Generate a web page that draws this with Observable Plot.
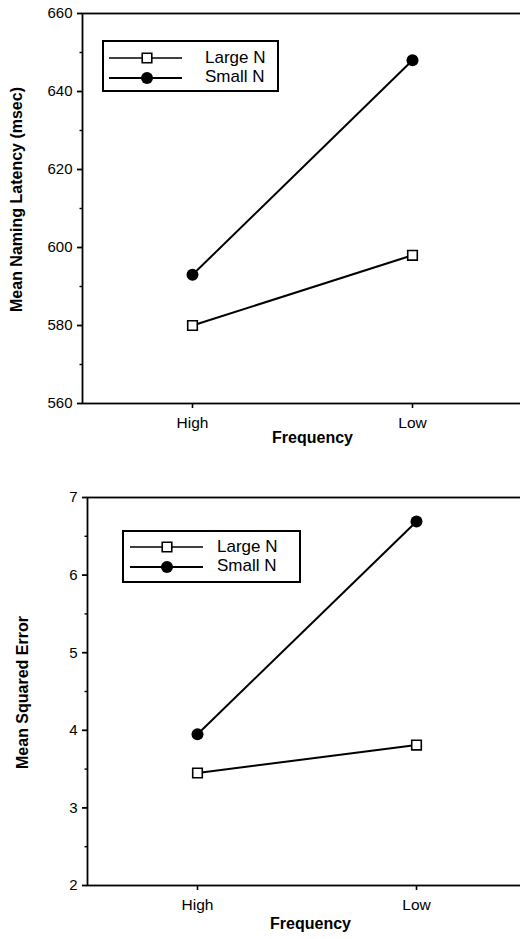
<!DOCTYPE html>
<html><head><meta charset="utf-8">
<script src="https://cdn.jsdelivr.net/npm/d3@7"></script>
<script src="https://cdn.jsdelivr.net/npm/@observablehq/plot@0.6"></script>
<style>
html,body{margin:0;padding:0;background:#fff;overflow:hidden;}
#chart svg{display:block;overflow:hidden;}
</style>
</head><body><div id="chart"></div>
<script>
// ---- data ----
const frequencies = ["High", "Low"];
const seriesNames = ["Large N", "Small N"];
const latencyLarge = [580, 598];
const latencySmall = [593, 648];
const errorLarge = [3.45, 3.81];
const errorSmall = [3.95, 6.69];
const latencyTicks = [560, 580, 600, 620, 640, 660];
const latencyMinor = [570, 590, 610, 630, 650];
const errorTicks = [2, 3, 4, 5, 6, 7];
const errorMinor = [2.5, 3.5, 4.5, 5.5, 6.5];
const xTitle = "Frequency";
const latencyTitle = "Mean Naming Latency (msec)";
const errorTitle = "Mean Squared Error";

const FONT = "'Liberation Sans', Arial, Helvetica, sans-serif";

function rows(large, small) {
  return frequencies.flatMap((f, i) => [
    {freq: f, series: seriesNames[0], value: large[i]},
    {freq: f, series: seriesNames[1], value: small[i]}
  ]);
}

function panel(o) {
  const data = rows(o.large, o.small);
  const L = data.filter(d => d.series === seriesNames[0]);
  const S = data.filter(d => d.series === seriesNames[1]);
  const svg = Plot.plot({
    width: 520, height: o.height,
    marginLeft: o.ml, marginRight: o.mr, marginTop: o.mt, marginBottom: o.mb,
    style: {fontFamily: FONT, color: "black", background: "white", overflow: "hidden"},
    x: {type: "point", domain: frequencies, padding: 0.5, label: null},
    y: {domain: o.domain, label: null},
    marks: [
      Plot.frame({stroke: "black", strokeWidth: 1.8}),
      Plot.axisY(o.minor, {tickSize: 2.5, tickFormat: () => "", strokeWidth: 1.4, label: null}),
      Plot.axisY(o.ticks, {tickSize: 5, tickPadding: 5, fontSize: 15, tickFormat: d => String(d), strokeWidth: 1.8, label: null}),
      Plot.axisX({tickSize: 5, tickPadding: 8, fontSize: 15.5, strokeWidth: 1.6, label: null}),
      Plot.line(data, {x: "freq", y: "value", z: "series", stroke: "black", strokeWidth: 2}),
      Plot.dot(S, {x: "freq", y: "value", r: 6, fill: "black", symbol: "circle"}),
      Plot.dot(L, {x: "freq", y: "value", r: 5.4, fill: "white", stroke: "black", strokeWidth: 1.6, symbol: "square"}),
      Plot.text([xTitle], {text: d => d, frameAnchor: "bottom", textAnchor: "middle", dx: o.xdx, dy: o.xdy, fontWeight: "bold", fontSize: 16}),
      Plot.text([o.yTitle], {text: d => d, frameAnchor: "left", textAnchor: "middle", rotate: -90, dx: o.ydx, dy: o.ydy, fontWeight: "bold", fontSize: 16})
    ]
  });
  // legend inside the frame
  const lg = o.legend;
  const g = d3.select(svg).append("g").attr("font-family", FONT).attr("text-anchor", "start");
  g.append("rect").attr("x", lg.x).attr("y", lg.y).attr("width", lg.w).attr("height", lg.h)
    .attr("fill", "white").attr("stroke", "black").attr("stroke-width", 2);
  seriesNames.forEach((name, i) => {
    const yy = lg.rowY[i];
    g.append("line").attr("x1", lg.lx1).attr("x2", lg.lx2).attr("y1", yy).attr("y2", yy)
      .attr("stroke", "black").attr("stroke-width", i === 0 ? 1.4 : 2);
    const isSquare = i === 0;
    const r = isSquare ? 5.4 : 6;
    g.append("path")
      .attr("d", d3.symbol(isSquare ? d3.symbolSquare : d3.symbolCircle, r * r * Math.PI)())
      .attr("transform", `translate(${lg.mx},${yy})`)
      .attr("fill", isSquare ? "white" : "black")
      .attr("stroke", isSquare ? "black" : "none")
      .attr("stroke-width", 1.6);
    g.append("text").attr("x", lg.tx).attr("y", lg.baseY[i]).attr("font-size", 17)
      .attr("text-anchor", "start").attr("fill", "black").text(name);
  });
  return svg;
}

const topPanel = panel({
  large: latencyLarge, small: latencySmall, domain: [560, 660],
  ticks: latencyTicks, minor: latencyMinor, yTitle: latencyTitle,
  height: 453, ml: 82, mr: -2, mt: 13, mb: 50,
  xdx: 10, xdy: 39.5, ydx: -65.5, ydy: -9,
  legend: {x: 103, y: 41, w: 175, h: 50, rowY: [58, 78], lx1: 109, lx2: 182, mx: 147, tx: 205, baseY: [62.7, 82]}
});
const bottomPanel = panel({
  large: errorLarge, small: errorSmall, domain: [2, 7],
  ticks: errorTicks, minor: errorMinor, yTitle: errorTitle,
  height: 486, ml: 87, mr: -6, mt: 44, mb: 54,
  xdx: 3.5, xdy: 43.5, ydx: -65, ydy: 1,
  legend: {x: 123, y: 78, w: 177, h: 51, rowY: [94, 114], lx1: 130, lx2: 203, mx: 167, tx: 217, baseY: [98.7, 117.7]}
});
document.getElementById("chart").append(topPanel, bottomPanel);
</script>
</body></html>
